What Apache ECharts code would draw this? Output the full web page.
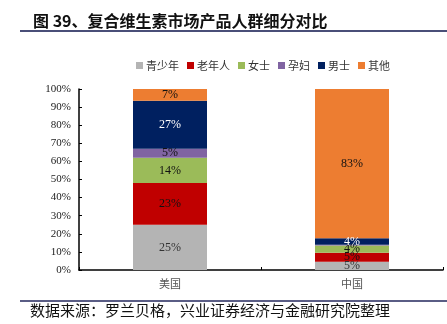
<!DOCTYPE html>
<html>
<head>
<meta charset="utf-8">
<script src="https://cdn.jsdelivr.net/npm/echarts@6/dist/echarts.min.js"></script>
<style>
html,body{margin:0;padding:0;background:#fff;}
#chart{width:447px;height:324px;}
</style>
</head>
<body>
<div id="chart"></div>
<script>
var categories = ['美国', '中国'];
var seriesNames = ['青少年', '老年人', '女士', '孕妇', '男士', '其他'];
var teen = [25.0, 4.5];
var elderly = [23.0, 5.0];
var women = [14.0, 4.0];
var pregnant = [5.0, 0.4];
var men = [26.5, 3.6];
var others = [6.5, 82.6];
var yTicks = [0, 10, 20, 30, 40, 50, 60, 70, 80, 90, 100];

var seriesValues = [teen, elderly, women, pregnant, men, others];
var colors = ['#b4b4b4', '#c00000', '#9bbb59', '#8064a2', '#002060', '#ed7d31'];
var labelColors = ['#333', '#111', '#111', '#111', '#fff', '#111'];
var serif = '"Liberation Serif","Times New Roman","Noto Sans CJK SC",serif';
var cjk = '"Noto Sans CJK SC","Liberation Serif",serif';

var chart = echarts.init(document.getElementById('chart'));
var series = seriesNames.map(function (name, i) {
  return {
    name: name,
    type: 'bar',
    stack: 'total',
    barWidth: 74,
    data: seriesValues[i],
    itemStyle: { color: colors[i] },
    label: {
      show: true,
      position: 'inside',
      fontFamily: serif,
      fontSize: 12,
      color: labelColors[i],
      formatter: function (p) {
        var v = Math.round(p.value);
        return v >= 1 ? v + '%' : '';
      }
    }
  };
});

chart.setOption({
  animation: false,
  backgroundColor: '#fff',
  title: {
    text: '图 39、复合维生素市场产品人群细分对比',
    left: 28,
    top: 8,
    textStyle: { fontFamily: cjk, fontSize: 16, fontWeight: 'bold', color: '#111' }
  },
  graphic: [
    { type: 'rect', shape: { x: 20, y: 30, width: 427, height: 2 }, style: { fill: '#4a4f78' } },
    { type: 'rect', shape: { x: 20, y: 300, width: 427, height: 2 }, style: { fill: '#5a5d85' } },
    { type: 'text', left: 30, top: 303, style: { text: '数据来源：罗兰贝格，兴业证券经济与金融研究院整理', font: '15px ' + cjk, fill: '#111' } }
  ],
  legend: {
    data: seriesNames,
    left: 131,
    top: 55,
    itemWidth: 7,
    itemHeight: 7,
    itemGap: 8,
    icon: 'rect',
    textStyle: { fontFamily: cjk, fontSize: 11, color: '#333', padding: [0, 0, 0, -2] }
  },
  grid: { left: 79, right: 4, top: 89, bottom: 54, containLabel: false },
  xAxis: {
    type: 'category',
    data: categories,
    axisLine: { lineStyle: { color: '#000', width: 1.5 } },
    axisTick: { show: true, inside: true, length: 3, lineStyle: { color: '#000' } },
    axisLabel: { fontFamily: cjk, fontSize: 11, color: '#555', margin: 8 }
  },
  yAxis: {
    type: 'value',
    min: 0,
    max: 100,
    interval: 10,
    axisLine: { show: true, lineStyle: { color: '#000', width: 1.5 } },
    axisTick: { show: true, inside: true, length: 3, lineStyle: { color: '#000' } },
    splitLine: { show: false },
    axisLabel: {
      fontFamily: serif, fontSize: 11, color: '#222', margin: 8,
      formatter: function (v) { return yTicks.indexOf(v) >= 0 ? v + '%' : ''; }
    }
  },
  series: series
});
</script>
</body>
</html>
